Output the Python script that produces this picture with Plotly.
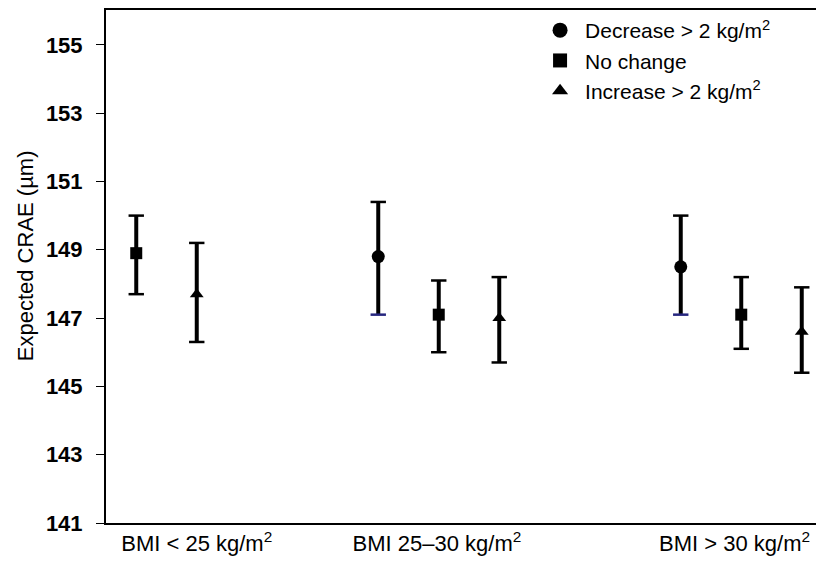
import plotly.graph_objects as go

# ---- data ----
groups = ["BMI &lt; 25 kg/m<sup>2</sup>", "BMI 25–30 kg/m<sup>2</sup>", "BMI &gt; 30 kg/m<sup>2</sup>"]
series = ["Decrease &gt; 2 kg/m<sup>2</sup>", "No change", "Increase &gt; 2 kg/m<sup>2</sup>"]

decrease_mean = [None, 148.8, 148.5]
decrease_upper = [None, 150.4, 150.0]
decrease_lower = [None, 147.1, 147.1]

nochange_mean = [148.9, 147.1, 147.1]
nochange_upper = [150.0, 148.1, 148.2]
nochange_lower = [147.7, 146.0, 146.1]

increase_mean = [147.7, 147.0, 146.6]
increase_upper = [149.2, 148.2, 147.9]
increase_lower = [146.3, 145.7, 145.4]

y_ticks = [141, 143, 145, 147, 149, 151, 153, 155]

# ---- layout positions (slots along the x axis) ----
slot_x = {
    "decrease": [None, 4.5, 9.5],
    "nochange": [0.5, 5.5, 10.5],
    "increase": [1.5, 6.5, 11.5],
}
label_x = [1.5, 5.47, 10.39]

def clean(xs, ys):
    px, py = [], []
    for a, b in zip(xs, ys):
        if a is not None and b is not None:
            px.append(a)
            py.append(b)
    return px, py

fig = go.Figure()

specs = [
    ("decrease", series[0], decrease_mean, decrease_upper, decrease_lower, "circle", 13, 15, "#26267f"),
    ("nochange", series[1], nochange_mean, nochange_upper, nochange_lower, "square", 12, 14, "black"),
    ("increase", series[2], increase_mean, increase_upper, increase_lower, "triangle-up", 12, 14, "black"),
]

for key, name, mean, up, lo, sym, size, lsize, lowcap in specs:
    xs, ms = clean(slot_x[key], mean)
    _, us = clean(slot_x[key], up)
    _, ls = clean(slot_x[key], lo)
    fig.add_trace(go.Scatter(
        x=xs, y=ms, mode="markers", name=name, showlegend=False,
        marker=dict(symbol=sym, size=size, color="black"),
        error_y=dict(type="data", symmetric=False,
                     array=[u - m for u, m in zip(us, ms)],
                     arrayminus=[m - l for m, l in zip(ms, ls)],
                     thickness=4, width=0, color="black"),
    ))
    fig.add_trace(go.Scatter(
        x=xs, y=us, mode="markers", showlegend=False, hoverinfo="skip",
        marker=dict(symbol="line-ew", size=11, line=dict(width=2.5, color="black")),
    ))
    fig.add_trace(go.Scatter(
        x=xs, y=ls, mode="markers", showlegend=False, hoverinfo="skip",
        marker=dict(symbol="line-ew", size=11, line=dict(width=2.5, color=lowcap)),
    ))
    # legend entry
    fig.add_trace(go.Scatter(
        x=[None], y=[None], mode="markers", name=name, showlegend=True,
        marker=dict(symbol=sym, size=lsize, color="black"),
    ))

font_family = "Arial, Liberation Sans, sans-serif"

fig.update_layout(
    width=824, height=564,
    margin=dict(l=98, r=0, t=0, b=49),
    paper_bgcolor="white", plot_bgcolor="white",
    font=dict(family=font_family, color="black"),
    showlegend=True,
    legend=dict(x=0.591, y=1.0, xanchor="left", yanchor="top",
                font=dict(size=21, color="black"), bgcolor="rgba(0,0,0,0)",
                tracegroupgap=0, itemsizing="trace", itemwidth=40),
    xaxis=dict(range=[0, 12.0], showgrid=False, zeroline=False,
               showline=True, linecolor="black", linewidth=2, mirror=True,
               tickmode="array", tickvals=label_x, ticktext=groups,
               ticks="", tickfont=dict(size=22, color="black")),
    yaxis=dict(range=[141, 156.02], showgrid=False, zeroline=False,
               showline=True, linecolor="black", linewidth=2, mirror=False,
               tickmode="array", tickvals=y_ticks,
               ticks="outside", ticklen=8, tickwidth=1, tickcolor="black",
               ticklabelstandoff=9,
               tickfont=dict(size=22, color="black", family=font_family, weight="bold")),
    annotations=[dict(text="Expected CRAE (µm)", textangle=-90,
                      xref="paper", yref="paper", x=(25 - 106) / 726, y=0.52,
                      xanchor="center", yanchor="middle", showarrow=False,
                      font=dict(size=22, color="black"))],
)

fig.write_html("out.html")
